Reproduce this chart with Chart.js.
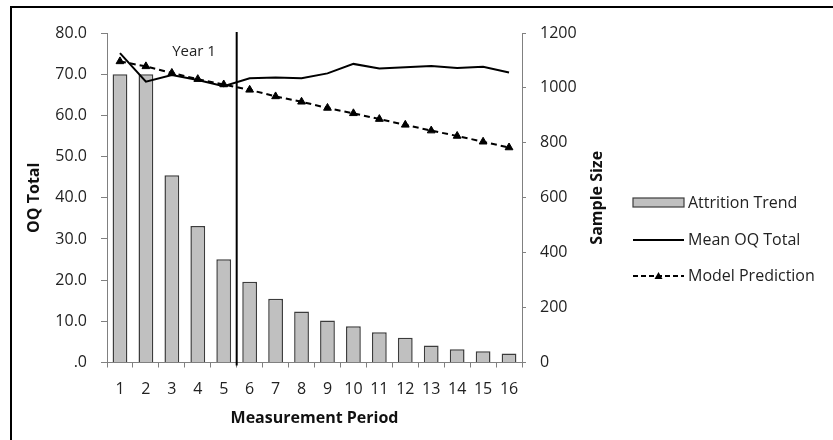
<!DOCTYPE html>
<html>
<head>
<meta charset="utf-8">
<script src="https://cdn.jsdelivr.net/npm/chart.js@4.4.0/dist/chart.umd.min.js"></script>
<style>
  body { margin: 0; background: #fff; }
  #wrap { position: relative; width: 833px; height: 440px; }
  #frame { position: absolute; left: 10px; top: 6px; right: -5px; bottom: -5px;
           border-left: 2px solid #000; border-top: 2px solid #000; pointer-events: none; }
</style>
</head>
<body>
<div id="wrap">
  <canvas id="chart" width="833" height="440"></canvas>
  <div id="frame"></div>
</div>
<script>
// measurement periods
const periods = ["1","2","3","4","5","6","7","8","9","10","11","12","13","14","15","16"];
// sample size per period (bars, right axis)
const attrition = [1050, 1050, 682, 497, 376, 294, 232, 186, 153, 132, 110, 90, 62, 48, 41, 33];
// mean OQ total (left axis)
const meanOQ = [75.1, 68.2, 69.8, 68.6, 67.1, 69.0, 69.2, 69.0, 70.2, 72.5, 71.4, 71.7, 72.0, 71.5, 71.8, 70.4];
// model prediction (left axis)
const modelPred = [73.1, 71.9, 70.3, 68.8, 67.5, 66.2, 64.6, 63.3, 61.8, 60.5, 59.1, 57.7, 56.3, 55.0, 53.6, 52.2];

const FONT = "'Open Sans', 'DejaVu Sans', sans-serif";
const axisGrey = '#808080';
const textCol = '#222';

// vertical "Year 1" marker between period 5 and 6, plus right axis title (reads upward)
const yearLine = {
    id: 'yearLine',
    afterDatasetsDraw(chart) {
        const ctx = chart.ctx;
        const x = chart.scales.x;
        const px = (x.getPixelForValue(4) + x.getPixelForValue(5)) / 2;
        ctx.save();
        ctx.strokeStyle = '#000';
        ctx.lineWidth = 2;
        ctx.beginPath();
        ctx.moveTo(px, chart.chartArea.top - 1);
        ctx.lineTo(px, chart.chartArea.bottom + 3);
        ctx.stroke();
        ctx.fillStyle = textCol;
        ctx.font = "15px " + FONT;
        ctx.textAlign = 'center';
        ctx.textBaseline = 'middle';
        ctx.fillText('Year 1', 194, 52);

        const r = chart.scales.y1;
        ctx.translate(597, (chart.chartArea.top + chart.chartArea.bottom) / 2);
        ctx.rotate(-Math.PI / 2);
        ctx.font = "bold 16px " + FONT;
        ctx.fillStyle = '#111';
        ctx.fillText('Sample Size', 0, 0);
        ctx.restore();
    }
};

// legend on the right, drawn like the original
const sideLegend = {
    id: 'sideLegend',
    afterDraw(chart) {
        const ctx = chart.ctx;
        const x0 = 633, x1 = 684, tx = 688;
        ctx.save();
        ctx.font = "16px " + FONT;
        ctx.fillStyle = textCol;
        ctx.textBaseline = 'middle';
        ctx.textAlign = 'left';

        // Attrition Trend
        ctx.fillStyle = '#c0c0c0';
        ctx.fillRect(x0, 198, x1 - x0, 9);
        ctx.strokeStyle = '#3c3c3c';
        ctx.lineWidth = 1.2;
        ctx.strokeRect(x0, 198, x1 - x0, 9);
        ctx.fillStyle = textCol;
        ctx.fillText('Attrition Trend', tx, 203);

        // Mean OQ Total
        ctx.strokeStyle = '#000';
        ctx.lineWidth = 2;
        ctx.beginPath();
        ctx.moveTo(x0, 240);
        ctx.lineTo(x1, 240);
        ctx.stroke();
        ctx.fillText('Mean OQ Total', tx, 240);

        // Model Prediction
        ctx.setLineDash([5, 3]);
        ctx.beginPath();
        ctx.moveTo(x0, 276);
        ctx.lineTo(x1, 276);
        ctx.stroke();
        ctx.setLineDash([]);
        const cx = (x0 + x1) / 2;
        ctx.fillStyle = '#000';
        ctx.beginPath();
        ctx.moveTo(cx, 272);
        ctx.lineTo(cx + 4, 279);
        ctx.lineTo(cx - 4, 279);
        ctx.closePath();
        ctx.fill();
        ctx.fillStyle = textCol;
        ctx.fillText('Model Prediction', tx, 276);
        ctx.restore();
    }
};

new Chart(document.getElementById('chart').getContext('2d'), {
    type: 'bar',
    data: {
        labels: periods,
        datasets: [{
            label: 'Mean OQ Total',
            type: 'line',
            data: meanOQ,
            yAxisID: 'y',
            borderColor: '#000',
            borderWidth: 2,
            pointRadius: 0,
            tension: 0,
            fill: false,
            order: 1
        }, {
            label: 'Model Prediction',
            type: 'line',
            data: modelPred,
            yAxisID: 'y',
            borderColor: '#000',
            borderWidth: 2,
            borderDash: [6, 4],
            pointStyle: 'triangle',
            pointRadius: 4.5,
            pointBackgroundColor: '#000',
            pointBorderColor: '#000',
            pointBorderWidth: 1,
            tension: 0,
            fill: false,
            order: 0
        }, {
            label: 'Attrition Trend',
            data: attrition,
            yAxisID: 'y1',
            backgroundColor: '#c0c0c0',
            borderColor: '#3c3c3c',
            borderWidth: 1.5,
            categoryPercentage: 1,
            barPercentage: 0.57,
            order: 2
        }]
    },
    options: {
        responsive: false,
        animation: false,
        layout: { padding: { left: 22, top: 33, right: 223, bottom: 0 } },
        plugins: { legend: { display: false }, tooltip: { enabled: false } },
        scales: {
            x: {
                offset: true,
                grid: { offset: true, drawOnChartArea: false, tickLength: 5, color: axisGrey },
                border: { color: axisGrey, width: 1 },
                ticks: { color: textCol, font: { family: FONT, size: 16 }, padding: 12, maxRotation: 0, autoSkip: false },
                title: { display: true, text: 'Measurement Period', color: '#111',
                         font: { family: FONT, size: 16, weight: 'bold' }, padding: { top: 0, bottom: 12 } },
                afterFit(s) { s.height = 77.5; }
            },
            y: {
                position: 'left',
                min: 0, max: 80,
                grid: { drawOnChartArea: false, tickLength: 6, color: axisGrey },
                border: { color: axisGrey, width: 1 },
                ticks: { stepSize: 10, color: textCol, padding: 14, font: { family: FONT, size: 16 },
                         callback: v => v === 0 ? '.0' : v.toFixed(1) },
                title: { display: true, text: 'OQ Total', color: '#111',
                         font: { family: FONT, size: 16, weight: 'bold' }, padding: { top: 3, bottom: 0 } },
                afterFit(s) { s.width = 85; }
            },
            y1: {
                position: 'right',
                min: 0, max: 1200,
                grid: { drawOnChartArea: false, tickLength: 4, color: axisGrey },
                border: { color: axisGrey, width: 1 },
                ticks: { stepSize: 200, color: textCol, padding: 14, font: { family: FONT, size: 16 },
                         callback: v => String(v) },
                title: { display: false },
                afterFit(s) { s.width = 88; }
            }
        }
    },
    plugins: [yearLine, sideLegend]
});
</script>
</body>
</html>
